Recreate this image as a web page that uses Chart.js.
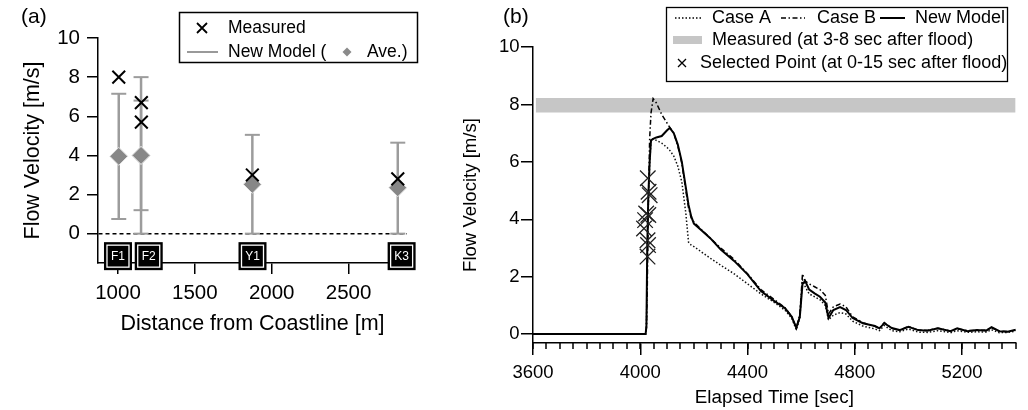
<!DOCTYPE html>
<html>
<head>
<meta charset="utf-8">
<script src="https://cdn.jsdelivr.net/npm/chart.js@4.4.1/dist/chart.umd.min.js"></script>
<style>
  html, body { margin: 0; padding: 0; background: #fff; }
  #wrap { position: relative; width: 1028px; height: 410px; overflow: hidden; }
  #chartA { position: absolute; left: 0; top: 0; }
  #chartB { position: absolute; left: 455px; top: 0; }
</style>
</head>
<body>
<div id="wrap">
  <canvas id="chartA" width="455" height="410"></canvas>
  <canvas id="chartB" width="573" height="410"></canvas>
</div>
<script>
// ---- (a) 観測点ごとの流速 ----
const stations = ['F1', 'F2', 'Y1', 'K3'];
const stationLabelX = [1000, 1200, 1875, 2845];
const measuredX = [1005, 1152, 1152, 1874, 2820];
const measuredV = [8.0, 6.7, 5.7, 3.0, 2.8];
const modelX = [1005, 1150, 1150, 1874, 2820];
const modelAve = [3.95, 4.0, 4.0, 2.52, 2.35];
const modelMin = [0.75, 1.2, 0, 0, 0];
const modelMax = [7.15, 8.0, 6.8, 5.05, 4.65];
const xTicksA = [1000, 1500, 2000, 2500];
const yTicksA = [0, 2, 4, 6, 8, 10];

// ---- (b) 流速の時系列 ----
const times = [3600, 4020, 4023, 4026, 4030, 4035, 4040, 4048, 4060, 4080,
  4100, 4110, 4125, 4140, 4155, 4170, 4180, 4190, 4200, 4230,
  4260, 4300, 4350, 4400, 4450, 4500, 4540, 4565, 4582, 4595,
  4605, 4615, 4630, 4650, 4670, 4690, 4702, 4720, 4745, 4767,
  4792, 4830, 4875, 4892, 4910, 4938, 4967, 5000, 5036, 5070,
  5110, 5157, 5182, 5220, 5255, 5290, 5310, 5339, 5370, 5400];
const newModel = [0, 0, 0.3, 3.0, 4.8, 6.0, 6.75, 6.8, 6.85, 6.9,
  7.1, 7.18, 7.0, 6.6, 6.0, 5.1, 4.5, 4.1, 3.85, 3.6,
  3.35, 2.95, 2.55, 2.08, 1.5, 1.15, 0.9, 0.6, 0.22, 0.6,
  1.75, 1.85, 1.55, 1.42, 1.3, 1.1, 0.56, 0.84, 0.94, 0.84,
  0.56, 0.38, 0.28, 0.2, 0.38, 0.21, 0.14, 0.25, 0.14, 0.12,
  0.2, 0.1, 0.2, 0.1, 0.14, 0.12, 0.24, 0.1, 0.08, 0.15];
const caseB = [0, 0, 0.2, 1.5, 4.5, 6.8, 7.7, 8.2, 8.05, 7.65,
  7.35, 7.2, 7.0, 6.55, 5.95, 5.0, 4.4, 4.05, 3.9, 3.62,
  3.35, 3.0, 2.6, 2.1, 1.55, 1.2, 0.92, 0.6, 0.2, 0.7,
  2.1, 1.85, 1.75, 1.65, 1.55, 1.35, 0.7, 0.95, 1.05, 0.95,
  0.6, 0.4, 0.27, 0.2, 0.4, 0.2, 0.13, 0.27, 0.14, 0.13,
  0.2, 0.11, 0.18, 0.12, 0.13, 0.14, 0.22, 0.1, 0.09, 0.14];
const caseA = [0, 0, 0.2, 2.5, 4.5, 5.9, 6.75, 6.8, 6.75, 6.65,
  6.5, 6.4, 6.2, 5.85, 5.3, 4.2, 3.2, 3.1, 3.05, 2.85,
  2.65, 2.4, 2.1, 1.75, 1.4, 1.1, 0.83, 0.55, 0.15, 0.55,
  1.9, 1.65, 1.4, 1.3, 1.2, 1.0, 0.5, 0.66, 0.75, 0.7,
  0.45, 0.28, 0.18, 0.12, 0.3, 0.12, 0.08, 0.18, 0.07, 0.06,
  0.12, 0.05, 0.12, 0.06, 0.08, 0.07, 0.15, 0.05, 0.06, 0.1];
const selectedT = [4028, 4031, 4035, 4022, 4030, 4018, 4014, 4027, 4029, 4027];
const selectedV = [5.43, 4.96, 4.84, 4.2, 4.15, 3.97, 3.68, 3.27, 3.1, 2.7];
const bandTime = [3610, 5400];
const bandLow = 7.72;
const bandHigh = 8.22;
const xTicksB = [3600, 4000, 4400, 4800, 5200];
const yTicksB = [0, 2, 4, 6, 8, 10];

const FONT = "'Liberation Sans', Arial, Helvetica, sans-serif";
Chart.defaults.font.family = FONT;
Chart.defaults.color = '#000';

// 凡例用の小さな描画関数
function drawCross(ctx, x, y, half, width, color) {
    ctx.save();
    ctx.strokeStyle = color;
    ctx.lineWidth = width;
    ctx.beginPath();
    ctx.moveTo(x - half, y - half); ctx.lineTo(x + half, y + half);
    ctx.moveTo(x - half, y + half); ctx.lineTo(x + half, y - half);
    ctx.stroke();
    ctx.restore();
}

function drawSeg(ctx, x1, x2, y, width, color, dash) {
    ctx.save();
    ctx.strokeStyle = color;
    ctx.lineWidth = width;
    ctx.setLineDash(dash || []);
    ctx.beginPath();
    ctx.moveTo(x1, y); ctx.lineTo(x2, y);
    ctx.stroke();
    ctx.restore();
}

function text(ctx, str, x, y, size, align) {
    ctx.save();
    ctx.fillStyle = '#000';
    ctx.font = size + 'px ' + FONT;
    ctx.textAlign = align || 'left';
    ctx.textBaseline = 'middle';
    ctx.fillText(str, x, y);
    ctx.restore();
}

const pts = (xs, ys) => xs.map((x, i) => ({ x: x, y: ys[i] }));
const plain = v => String(v);

// ---- (a) の装飾：観測点ラベル、凡例、パネル記号 ----
const panelADecor = {
    id: 'panelADecor',
    afterDraw(chart) {
        const ctx = chart.ctx;
        const sx = chart.scales.x, sy = chart.scales.y;
        const cy = sy.getPixelForValue(-1.15);
        stations.forEach((name, i) => {
            const cx = sx.getPixelForValue(stationLabelX[i]);
            ctx.save();
            ctx.fillStyle = '#000';
            ctx.fillRect(cx - 14, cy - 14, 28, 28);
            ctx.strokeStyle = '#fff';
            ctx.lineWidth = 1.3;
            ctx.strokeRect(cx - 11, cy - 11, 22, 22);
            ctx.fillStyle = '#fff';
            ctx.font = '12px ' + FONT;
            ctx.textAlign = 'center';
            ctx.textBaseline = 'middle';
            ctx.fillText(name, cx, cy + 0.5);
            ctx.restore();
        });

        text(ctx, '(a)', 21, 17, 21);

        // 凡例
        ctx.save();
        ctx.fillStyle = '#fff';
        ctx.fillRect(179, 12, 239, 51);
        ctx.strokeStyle = '#000';
        ctx.lineWidth = 1.5;
        ctx.strokeRect(179.5, 12.5, 238, 50);
        ctx.restore();
        drawCross(ctx, 202, 28, 5, 1.8, '#000');
        text(ctx, 'Measured', 228, 28, 17.5);
        drawSeg(ctx, 187, 218, 52, 2, '#999');
        text(ctx, 'New Model (', 228, 52, 17.5);
        ctx.save();
        ctx.fillStyle = '#8a8a8a';
        ctx.beginPath();
        ctx.moveTo(347, 47.5); ctx.lineTo(351.5, 52); ctx.lineTo(347, 56.5); ctx.lineTo(342.5, 52);
        ctx.closePath();
        ctx.fill();
        ctx.restore();
        text(ctx, 'Ave.)', 367, 52, 17.5);
    }
};

// ---- (b) の装飾：補助目盛、凡例、パネル記号 ----
const panelBDecor = {
    id: 'panelBDecor',
    afterDraw(chart) {
        const ctx = chart.ctx;
        const sx = chart.scales.x;
        ctx.save();
        ctx.strokeStyle = '#000';
        ctx.lineWidth = 1.5;
        for (let t = sx.min; t <= sx.max + 0.01; t += 50) {
            const px = Math.round(sx.getPixelForValue(t));
            ctx.beginPath();
            ctx.moveTo(px, sx.top);
            ctx.lineTo(px, sx.top + 6);
            ctx.stroke();
        }
        ctx.restore();

        text(ctx, '(b)', 48, 17, 21);

        ctx.save();
        ctx.fillStyle = '#fff';
        ctx.fillRect(211, 7, 342, 75);
        ctx.strokeStyle = '#000';
        ctx.lineWidth = 1.3;
        ctx.strokeRect(211.5, 7.5, 341, 74);
        ctx.restore();

        drawSeg(ctx, 220, 247, 18, 1.5, '#000', [1.5, 2]);
        text(ctx, 'Case A', 257, 18, 18);
        drawSeg(ctx, 326, 350, 18, 1.5, '#000', [5, 2.5, 1.5, 2.5]);
        text(ctx, 'Case B', 362, 18, 18);
        drawSeg(ctx, 425, 450, 18, 2, '#000');
        text(ctx, 'New Model', 460, 18, 18);

        ctx.save();
        ctx.fillStyle = '#c6c6c6';
        ctx.fillRect(218, 36, 29, 8);
        ctx.restore();
        text(ctx, 'Measured (at 3-8 sec after flood)', 257, 40, 18);

        drawCross(ctx, 227, 63, 4, 1.3, '#000');
        text(ctx, 'Selected Point (at 0-15 sec after flood)', 245, 63, 18);
    }
};

// ---- (a) ----
const errorBarSets = modelX.map((x, i) => ({
    type: 'line',
    data: [{ x: x, y: modelMin[i] }, { x: x, y: modelMax[i] }],
    borderColor: '#9c9c9c',
    borderWidth: 2.5,
    pointStyle: 'line',
    pointRadius: 7.5,
    pointBorderWidth: 2,
    pointBorderColor: '#9c9c9c',
    showLine: true
}));

new Chart(document.getElementById('chartA'), {
    type: 'scatter',
    data: {
        datasets: [
            {
                label: 'Measured',
                data: pts(measuredX, measuredV),
                pointStyle: 'crossRot',
                pointRadius: 9,
                pointBorderWidth: 2,
                pointBorderColor: '#000'
            },
            {
                label: 'Ave.',
                data: pts(modelX, modelAve),
                pointStyle: 'rectRot',
                pointRadius: 9,
                pointBackgroundColor: '#878787',
                pointBorderColor: '#e6e6e6',
                pointBorderWidth: 1
            }
        ].concat(errorBarSets)
    },
    options: {
        responsive: false,
        animation: false,
        layout: { padding: { top: 38, right: 48, bottom: 0, left: 0 } },
        plugins: { legend: { display: false }, tooltip: { enabled: false } },
        scales: {
            x: {
                type: 'linear',
                min: 870,
                max: 2880,
                afterBuildTicks: s => { s.ticks = xTicksA.map(v => ({ value: v })); },
                afterFit: s => { s.height = 147; },
                grid: { drawOnChartArea: false, tickLength: 11, color: '#000', lineWidth: 1.5 },
                border: { color: '#000', width: 1.5 },
                ticks: { color: '#000', padding: 7, font: { size: 20.5 }, maxRotation: 0, autoSkip: false, callback: plain },
                title: {
                    display: true, text: 'Distance from Coastline [m]', color: '#000',
                    font: { size: 21.5 }, padding: { top: 0, bottom: 73 }
                }
            },
            y: {
                min: -1.5,
                max: 10,
                afterBuildTicks: s => { s.ticks = yTicksA.map(v => ({ value: v })); },
                afterFit: s => { s.width = 98; },
                grid: {
                    tickLength: 11,
                    color: c => (c.tick && c.tick.value === 0 ? '#000' : 'rgba(0,0,0,0)'),
                    tickColor: '#000',
                    lineWidth: 1.5,
                    tickBorderDash: []
                },
                border: { color: '#000', width: 1.5, dash: [4, 3] },
                ticks: { color: '#000', padding: 7, font: { size: 20.5 }, callback: plain },
                title: {
                    display: true, text: 'Flow Velocity [m/s]', color: '#000',
                    font: { size: 21.5 }, padding: { top: 20, bottom: 0 }
                }
            }
        }
    },
    plugins: [panelADecor]
});

// ---- (b) ----
new Chart(document.getElementById('chartB'), {
    type: 'line',
    data: {
        datasets: [
            {
                label: 'Selected Point',
                type: 'scatter',
                data: pts(selectedT, selectedV),
                pointStyle: 'crossRot',
                pointRadius: 11,
                pointBorderWidth: 1.3,
                pointBorderColor: '#222'
            },
            {
                label: 'New Model',
                data: pts(times, newModel),
                borderColor: '#000',
                borderWidth: 2,
                pointRadius: 0,
                tension: 0
            },
            {
                label: 'Case B',
                data: pts(times, caseB),
                borderColor: '#000',
                borderWidth: 1.5,
                borderDash: [5, 2.5, 1.5, 2.5],
                pointRadius: 0,
                tension: 0
            },
            {
                label: 'Case A',
                data: pts(times, caseA),
                borderColor: '#111',
                borderWidth: 1.5,
                borderDash: [1.5, 2],
                pointRadius: 0,
                tension: 0
            },
            {
                label: 'Measured',
                data: bandTime.map(t => ({ x: t, y: bandHigh })),
                borderWidth: 0,
                pointRadius: 0,
                backgroundColor: '#c6c6c6',
                fill: { target: { value: bandLow } }
            }
        ]
    },
    options: {
        responsive: false,
        animation: false,
        layout: { padding: { top: 47, right: 1, bottom: 0, left: 0 } },
        plugins: { legend: { display: false }, tooltip: { enabled: false } },
        scales: {
            x: {
                type: 'linear',
                min: 3600,
                max: 5400,
                afterBuildTicks: s => { s.ticks = xTicksB.map(v => ({ value: v })); },
                afterFit: s => { s.height = 67; },
                grid: { drawOnChartArea: false, tickLength: 12, color: '#000', lineWidth: 1.5 },
                border: { color: '#000', width: 1.5 },
                ticks: { color: '#000', padding: 7, font: { size: 18.5 }, maxRotation: 0, autoSkip: false, callback: plain },
                title: {
                    display: true, text: 'Elapsed Time [sec]', color: '#000',
                    font: { size: 18.8 }, padding: { top: 0, bottom: 1 }
                }
            },
            y: {
                min: -0.31,
                max: 10,
                afterBuildTicks: s => { s.ticks = yTicksB.map(v => ({ value: v })); },
                afterFit: s => { s.width = 78; },
                grid: { drawOnChartArea: false, tickLength: 12, color: '#000', lineWidth: 1.5 },
                border: { color: '#000', width: 1.5 },
                ticks: { color: '#000', padding: 1.5, font: { size: 18.5 }, callback: plain },
                title: {
                    display: true, text: 'Flow Velocity [m/s]', color: '#000',
                    font: { size: 18.6 }, padding: { top: 5, bottom: 0 }
                }
            }
        }
    },
    plugins: [panelBDecor]
});
</script>
</body>
</html>
